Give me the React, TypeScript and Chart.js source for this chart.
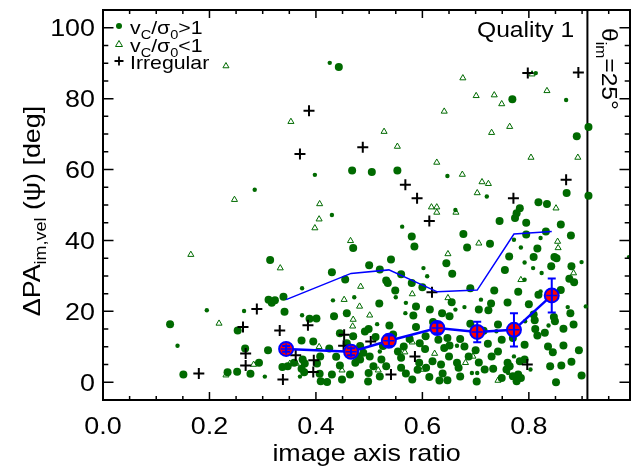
import React, { useEffect, useRef } from "react";
import { Chart, registerables } from "chart.js";
Chart.register(...registerables);

// ---------- data ----------
const xTickValues = [0, 0.2, 0.4, 0.6, 0.8];
const xTickLabels = ["0.0", "0.2", "0.4", "0.6", "0.8"];
const yTickValues = [0, 20, 40, 60, 80, 100];
const yTickLabels = ["0", "20", "40", "60", "80", "100"];
const thetaLineX = 0.91;

const binX = [0.344, 0.466, 0.537, 0.628, 0.703, 0.772, 0.843];
const medianY = [9.4, 8.6, 11.7, 15.3, 14.2, 14.8, 24.5];
const medianErr = [0.8, 1.0, 1.5, 1.5, 2.9, 4.7, 4.8];
const upperY = [23.3, 30.7, 31.7, 25.5, 26.0, 41.8, 42.5];

const irregular: [number, number][] = [
  [0.387, 76.6], [0.370, 64.4], [0.488, 66.3], [0.568, 55.7], [0.590, 51.9],
  [0.798, 87.2], [0.893, 87.4], [0.870, 57.1], [0.771, 51.9], [0.289, 20.7],
  [0.263, 15.6], [0.332, 14.6], [0.385, 16.1], [0.268, 8.1], [0.362, 7.6],
  [0.268, 4.7], [0.396, 6.2], [0.180, 2.5], [0.338, 0.8], [0.395, 2.9],
  [0.613, 45.5], [0.618, 25.4], [0.453, 13.4], [0.452, 10.3], [0.503, 11.5],
  [0.586, 7.3], [0.541, 2.2], [0.797, 5.0],
];

const lowRotation: [number, number][] = [
  [0.231, 89.2], [0.353, 73.5], [0.247, 51.5], [0.407, 50.3], [0.676, 85.8],
  [0.701, 80.8], [0.735, 81.0], [0.749, 78.5], [0.641, 76.4], [0.528, 70.7],
  [0.730, 70.4], [0.553, 66.5], [0.627, 62.0], [0.675, 58.6], [0.712, 56.5],
  [0.724, 56.0], [0.703, 53.4], [0.617, 49.4], [0.627, 49.4], [0.806, 86.9],
  [0.834, 82.2], [0.764, 72.1], [0.804, 63.4], [0.892, 63.4], [0.851, 49.1],
  [0.406, 46.0], [0.398, 43.5], [0.165, 36.0], [0.333, 32.2], [0.218, 16.6],
  [0.406, 10.0], [0.283, 5.0], [0.231, 2.0], [0.627, 47.9], [0.663, 47.9],
  [0.465, 39.9], [0.706, 39.2], [0.648, 36.2], [0.484, 27.0], [0.581, 24.9],
  [0.453, 23.3], [0.648, 23.8], [0.482, 21.4], [0.501, 18.9], [0.470, 17.7],
  [0.469, 15.8], [0.581, 11.3], [0.567, 8.5], [0.623, 8.1], [0.695, 7.3],
  [0.681, 5.5], [0.449, 3.4], [0.517, 3.4], [0.601, 3.6], [0.742, 0.5],
  [0.854, 39.7], [0.855, 37.9], [0.884, 30.8], [0.785, 28.9], [0.351, 5.3],
  [0.363, 5.3],
];

const highRotationBig: [number, number][] = [
  [0.443, 88.9], [0.468, 59.7], [0.505, 59.3], [0.553, 59.7], [0.769, 79.8],
  [0.912, 72.0], [0.890, 69.4], [0.871, 53.4], [0.912, 52.6], [0.818, 50.8],
  [0.834, 50.3], [0.783, 49.1], [0.314, 34.5], [0.339, 24.1], [0.311, 23.3],
  [0.317, 22.4], [0.323, 23.1], [0.341, 19.9], [0.388, 17.9], [0.401, 18.0],
  [0.126, 16.4], [0.253, 14.6], [0.373, 11.8], [0.267, 9.5], [0.310, 9.0],
  [0.293, 5.5], [0.151, 2.2], [0.234, 2.8], [0.252, 3.0], [0.277, 2.4],
  [0.580, 41.1], [0.585, 38.3], [0.677, 41.8], [0.470, 37.9], [0.727, 39.1],
  [0.684, 38.0], [0.541, 34.6], [0.645, 33.6], [0.656, 30.6], [0.532, 28.7],
  [0.549, 25.9], [0.735, 25.9], [0.655, 22.6], [0.519, 22.2], [0.729, 22.2],
  [0.614, 20.5], [0.458, 19.5], [0.637, 19.5], [0.651, 18.6], [0.706, 20.5],
  [0.434, 18.6], [0.583, 18.8], [0.538, 16.0], [0.588, 15.6], [0.499, 15.0],
  [0.489, 8.3], [0.576, 12.2], [0.554, 8.7], [0.565, 10.1], [0.641, 9.7],
  [0.651, 10.4], [0.679, 10.1], [0.723, 10.9], [0.605, 9.4], [0.706, 5.6],
  [0.594, 5.5], [0.635, 5.0], [0.668, 4.1], [0.560, 4.1], [0.523, 6.4],
  [0.532, 4.5], [0.445, 4.7], [0.474, 5.5], [0.483, 6.4], [0.480, 7.3],
  [0.430, 2.2], [0.449, 0.8], [0.464, 2.2], [0.499, 2.6], [0.581, 0.8],
  [0.613, 1.5], [0.632, 0.5], [0.638, 2.5], [0.749, 1.2], [0.717, 3.6],
  [0.733, 3.8], [0.777, 47.7], [0.774, 46.3], [0.832, 42.5], [0.879, 41.4],
  [0.795, 41.7], [0.816, 37.7], [0.809, 35.3], [0.848, 35.3], [0.852, 35.0],
  [0.842, 32.7], [0.763, 35.5], [0.755, 31.7], [0.880, 32.7], [0.876, 29.2],
  [0.885, 28.2], [0.818, 24.7], [0.878, 19.5], [0.809, 19.1], [0.811, 17.5],
  [0.812, 15.0], [0.847, 18.4], [0.849, 17.2], [0.884, 16.3], [0.865, 15.1],
  [0.816, 13.2], [0.792, 10.6], [0.836, 10.1], [0.865, 10.4], [0.845, 8.5],
  [0.894, 9.0], [0.760, 5.5], [0.764, 4.5], [0.758, 3.6], [0.792, 6.4],
  [0.783, 5.9], [0.861, 4.7], [0.899, 1.9], [0.851, 0.0], [0.780, 2.2],
  [0.770, 1.7], [0.785, 1.2], [0.777, 0.3], [0.375, 6.4], [0.379, 5.3],
  [0.402, 5.3], [0.408, 7.3], [0.337, 4.3], [0.347, 4.5], [0.359, 5.5],
  [0.373, 3.8], [0.378, 2.8], [0.407, 2.4], [0.409, 0.3], [0.421, 0.1],
  [0.483, 10.2], [0.501, 7.3], [0.508, 4.5], [0.526, 10.2], [0.560, 6.9],
  [0.607, 4.1], [0.619, 5.9], [0.650, 7.3], [0.665, 5.5], [0.687, 7.3],
  [0.730, 7.3], [0.742, 8.7], [0.749, 12.0], [0.588, 21.4], [0.606, 13.0],
  [0.647, 12.5], [0.671, 12.2], [0.724, 20.3], [0.742, 16.3], [0.520, 31.8],
  [0.535, 28.0], [0.492, 14.3], [0.458, 11.0], [0.438, 7.2], [0.498, 0.2],
  [0.520, 1.6], [0.569, 2.5], [0.591, 3.5], [0.647, 0.6], [0.671, 1.6],
  [0.702, 0.2], [0.545, 13.5], [0.512, 12.8], [0.470, 13.0], [0.620, 17.0],
  [0.690, 16.5], [0.715, 14.5], [0.690, 26.5], [0.600, 26.8], [0.560, 30.5],
  [0.500, 33.0], [0.455, 29.0], [0.425, 9.5], [0.445, 13.8], [0.595, 11.0],
  [0.630, 12.0], [0.700, 9.0], [0.760, 22.5], [0.780, 25.5], [0.770, 12.5],
  [0.800, 22.0], [0.860, 26.0], [0.840, 4.5], [0.880, 5.8], [0.830, 14.0],
  [0.795, 45.0], [0.860, 44.5], [0.745, 45.5], [0.580, 28.0], [0.430, 31.0],
  [0.395, 11.5],
];

const highRotationSmall: [number, number][] = [
  [0.426, 90.1], [0.398, 58.5], [0.285, 54.3], [0.647, 58.2], [0.721, 52.4],
  [0.662, 48.6], [0.813, 87.2], [0.870, 79.6], [0.374, 26.5], [0.195, 20.3],
  [0.265, 20.1], [0.374, 18.9], [0.140, 10.3], [0.304, 1.6], [0.430, 47.2],
  [0.562, 43.9], [0.602, 32.2], [0.609, 29.9], [0.550, 24.0], [0.432, 23.1],
  [0.472, 24.0], [0.568, 19.5], [0.515, 16.4], [0.665, 10.3], [0.703, 2.6],
  [0.772, 40.2], [0.822, 40.7], [0.785, 38.0], [0.899, 33.9], [0.792, 33.8],
  [0.808, 32.2], [0.824, 30.8], [0.792, 28.9], [0.822, 25.6], [0.907, 21.4],
  [0.873, 21.2], [0.837, 16.0], [0.793, 17.2], [0.772, 7.3], [0.803, 3.6],
  [0.761, 2.6], [0.370, 1.6], [0.520, 8.7], [0.693, 2.6], [0.739, 14.4],
  [0.569, 22.4], [0.662, 20.5], [0.679, 21.2], [0.710, 23.3], [0.988, 35.3],
];

// ---------- styles ----------
const GREEN = "#006a00";
const BLUE = "#0000ff";
const RED = "#ff0000";
const FONT = '"Liberation Sans", Arial, sans-serif';
const STRETCH = 1.12;

type Seg = { t: string; s: number; dy?: number };

function drawRich(
  ctx: CanvasRenderingContext2D,
  segs: Seg[],
  x: number,
  y: number,
  rot: number,
  align: "left" | "center" | "right"
) {
  ctx.save();
  ctx.translate(x, y);
  ctx.rotate(rot);
  ctx.scale(STRETCH, 1);
  ctx.textAlign = "left";
  ctx.textBaseline = "alphabetic";
  ctx.fillStyle = "#000";
  let total = 0;
  const widths: number[] = [];
  for (const sg of segs) {
    ctx.font = `${sg.s}px ${FONT}`;
    const w = ctx.measureText(sg.t).width;
    widths.push(w);
    total += w;
  }
  let cx = align === "center" ? -total / 2 : align === "right" ? -total : 0;
  segs.forEach((sg, i) => {
    ctx.font = `${sg.s}px ${FONT}`;
    ctx.fillText(sg.t, cx, sg.dy || 0);
    cx += widths[i];
  });
  ctx.restore();
}

const decorPlugin = {
  id: "decor",
  beforeDatasetsDraw(chart: any) {
    const ctx = chart.ctx as CanvasRenderingContext2D;
    const { top, bottom } = chart.chartArea;
    const xs = chart.scales.x;
    const px = xs.getPixelForValue(thetaLineX);
    ctx.save();
    ctx.strokeStyle = "#000";
    ctx.lineWidth = 2;
    ctx.beginPath();
    ctx.moveTo(px, top);
    ctx.lineTo(px, bottom);
    ctx.stroke();
    ctx.restore();
  },
  afterDatasetsDraw(chart: any) {
    const ctx = chart.ctx as CanvasRenderingContext2D;
    const xs = chart.scales.x;
    const ys = chart.scales.y;
    ctx.save();
    ctx.strokeStyle = BLUE;
    binX.forEach((bx, i) => {
      const px = xs.getPixelForValue(bx);
      const py = ys.getPixelForValue(medianY[i]);
      const p1 = ys.getPixelForValue(medianY[i] + medianErr[i]);
      const p2 = ys.getPixelForValue(medianY[i] - medianErr[i]);
      ctx.lineWidth = 2;
      ctx.beginPath();
      ctx.moveTo(px, p1);
      ctx.lineTo(px, p2);
      ctx.moveTo(px - 4, p1);
      ctx.lineTo(px + 4, p1);
      ctx.moveTo(px - 4, p2);
      ctx.lineTo(px + 4, p2);
      ctx.stroke();
      ctx.lineWidth = 1.5;
      ctx.beginPath();
      ctx.moveTo(px - 5.5, py);
      ctx.lineTo(px + 5.5, py);
      ctx.moveTo(px, py - 5.5);
      ctx.lineTo(px, py + 5.5);
      ctx.stroke();
    });
    ctx.restore();
  },
  afterDraw(chart: any) {
    const ctx = chart.ctx as CanvasRenderingContext2D;
    const { left, right, top, bottom } = chart.chartArea;
    const xs = chart.scales.x;
    const ys = chart.scales.y;
    ctx.save();
    ctx.strokeStyle = "#000";
    ctx.lineWidth = 2;
    ctx.strokeRect(left, top, right - left, bottom - top);
    ctx.lineWidth = 1.5;
    ctx.beginPath();
    for (let k = 1; k * 0.05 < 0.99; k++) {
      const vv = k * 0.05;
      const major = k % 4 === 0;
      const len = major ? 8 : 4;
      const px = xs.getPixelForValue(vv);
      ctx.moveTo(px, bottom);
      ctx.lineTo(px, bottom - len);
      ctx.moveTo(px, top);
      ctx.lineTo(px, top + len);
    }
    for (let v = 0; v <= 100; v += 5) {
      const major = v % 20 === 0;
      const len = major ? 10.5 : 5.3;
      const py = ys.getPixelForValue(v);
      ctx.moveTo(left, py);
      ctx.lineTo(left + len, py);
      ctx.moveTo(right, py);
      ctx.lineTo(right - len, py);
    }
    ctx.stroke();
    ctx.restore();

    xTickValues.forEach((v, i) => {
      drawRich(ctx, [{ t: xTickLabels[i], s: 24 }], xs.getPixelForValue(v), 434, 0, "center");
    });
    yTickValues.forEach((v, i) => {
      drawRich(ctx, [{ t: yTickLabels[i], s: 24 }], 95, ys.getPixelForValue(v) + 8.6, 0, "right");
    });
    drawRich(ctx, [{ t: "image axis ratio", s: 24 }], (left + right) / 2, 461, 0, "center");
    drawRich(
      ctx,
      [
        { t: "ΔPA", s: 24 },
        { t: "im,vel", s: 16, dy: 6 },
        { t: " (ψ) [deg]", s: 24 },
      ],
      40,
      211,
      -Math.PI / 2,
      "center"
    );
    drawRich(ctx, [{ t: "Quality 1", s: 22 }], 477, 37, 0, "left");
    drawRich(
      ctx,
      [
        { t: "θ", s: 22 },
        { t: "im", s: 14, dy: 6 },
        { t: "=25°", s: 22 },
      ],
      602,
      28,
      Math.PI / 2,
      "left"
    );

    // legend symbols
    ctx.save();
    ctx.fillStyle = GREEN;
    ctx.beginPath();
    ctx.arc(119, 26, 3, 0, Math.PI * 2);
    ctx.fill();
    ctx.strokeStyle = GREEN;
    ctx.lineWidth = 1;
    ctx.beginPath();
    ctx.moveTo(119, 40.5);
    ctx.lineTo(122.5, 46.5);
    ctx.lineTo(115.5, 46.5);
    ctx.closePath();
    ctx.stroke();
    ctx.strokeStyle = "#000";
    ctx.lineWidth = 1.8;
    ctx.beginPath();
    ctx.moveTo(114.5, 61);
    ctx.lineTo(123.5, 61);
    ctx.moveTo(119, 56.5);
    ctx.lineTo(119, 65.5);
    ctx.stroke();
    ctx.restore();
    const legendRow = (op: string): Seg[] => [
      { t: "v", s: 19 },
      { t: "C", s: 13, dy: 5 },
      { t: "/σ", s: 19 },
      { t: "0", s: 13, dy: 5 },
      { t: op + "1", s: 19 },
    ];
    drawRich(ctx, legendRow(">"), 130, 34, 0, "left");
    drawRich(ctx, legendRow("<"), 130, 52, 0, "left");
    drawRich(ctx, [{ t: "Irregular", s: 19 }], 130, 69, 0, "left");
  },
};

const toPts = (arr: [number, number][]) => arr.map(([x, y]) => ({ x, y }));

export default function App() {
  const ref = useRef<HTMLCanvasElement>(null);
  useEffect(() => {
    document.body.style.margin = "0";
    const canvas = ref.current!;
    const chart = new Chart(canvas, {
      type: "scatter",
      data: {
        datasets: [
          {
            label: "median",
            data: binX.map((x, i) => ({ x, y: medianY[i] })),
            showLine: true,
            borderColor: BLUE,
            borderWidth: 2.5,
            pointRadius: 7,
            pointBackgroundColor: RED,
            pointBorderColor: BLUE,
            pointBorderWidth: 2,
          },
          {
            label: "upper",
            data: binX.map((x, i) => ({ x, y: upperY[i] })),
            showLine: true,
            borderColor: BLUE,
            borderWidth: 1.5,
            pointRadius: 0,
          },
          {
            label: "Irregular",
            data: toPts(irregular),
            pointStyle: "cross",
            pointRadius: 5.5,
            pointBorderColor: "#000",
            pointBorderWidth: 2,
          },
          {
            label: "low",
            data: toPts(lowRotation),
            pointStyle: "triangle",
            pointRadius: 3.5,
            pointBorderColor: GREEN,
            pointBackgroundColor: "rgba(255,255,255,0)",
            pointBorderWidth: 1,
          },
          {
            label: "small",
            data: toPts(highRotationSmall),
            pointRadius: 2.2,
            pointBackgroundColor: GREEN,
            pointBorderColor: GREEN,
            pointBorderWidth: 0,
          },
          {
            label: "big",
            data: toPts(highRotationBig),
            pointRadius: 4,
            pointBackgroundColor: GREEN,
            pointBorderColor: GREEN,
            pointBorderWidth: 0,
          },
        ],
      },
      options: {
        responsive: false,
        animation: false,
        devicePixelRatio: 1,
        events: [],
        layout: { padding: { left: 103, right: 2, top: 10, bottom: 67 } },
        scales: {
          x: { type: "linear", min: 0, max: 0.99, display: false },
          y: { type: "linear", min: -5, max: 105, display: false },
        },
        plugins: { legend: { display: false }, tooltip: { enabled: false } },
      },
      plugins: [decorPlugin],
    });
    return () => chart.destroy();
  }, []);
  return <canvas ref={ref} width={639} height={467} style={{ display: "block", width: 639, height: 467 }} />;
}
